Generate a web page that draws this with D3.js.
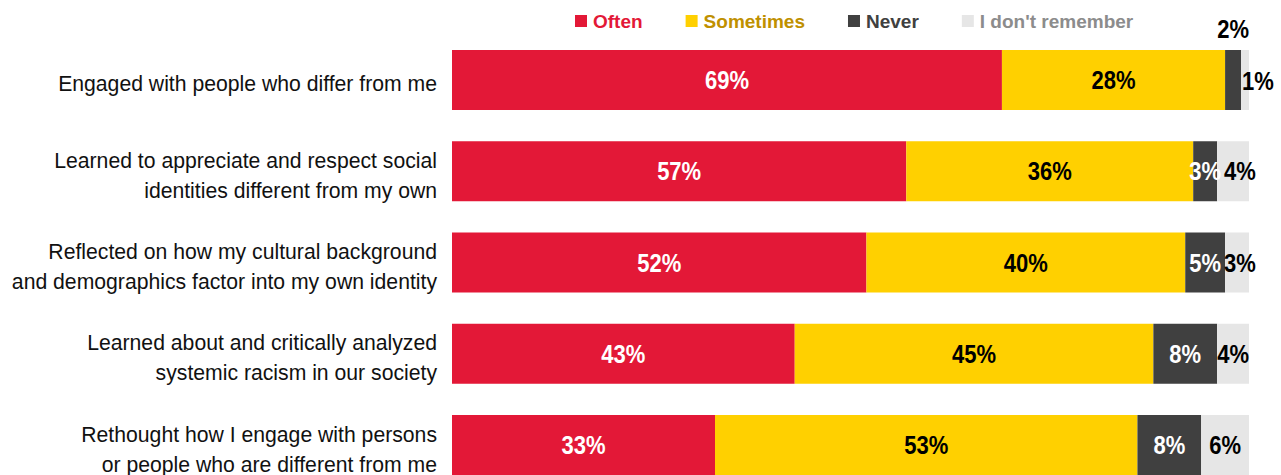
<!DOCTYPE html>
<html>
<head>
<meta charset="utf-8">
<script src="https://cdn.jsdelivr.net/npm/d3@7/dist/d3.min.js"></script>
<style>
  body { margin: 0; background: #fff; }
  svg { display: block; font-family: "Liberation Sans", Arial, sans-serif; }
</style>
</head>
<body>
<svg id="chart" width="1281" height="475"></svg>
<script>
// data
var categories = [
  ["Engaged with people who differ from me"],
  ["Learned to appreciate and respect social", "identities different from my own"],
  ["Reflected on how my cultural background", "and demographics factor into my own identity"],
  ["Learned about and critically analyzed", "systemic racism in our society"],
  ["Rethought how I engage with persons", "or people who are different from me"]
];
var seriesNames = ["Often", "Sometimes", "Never", "I don't remember"];
var often     = [69, 57, 52, 43, 33];
var sometimes = [28, 36, 40, 45, 53];
var never     = [2, 3, 5, 8, 8];
var dontKnow  = [1, 4, 3, 4, 6];

var fills     = ["#e31837", "#ffd000", "#404040", "#e6e6e6"];
var legendInk = ["#e31837", "#bf9000", "#404040", "#8c8c8c"];
var labelInk  = ["#fff", "#000", "#fff", "#000"];

var svg = d3.select("#chart");

// build rows for the stack
var rows = categories.map(function(c, i){
  return {idx: i, "Often": often[i], "Sometimes": sometimes[i],
          "Never": never[i], "I don't remember": dontKnow[i]};
});
var stack = d3.stack().keys(seriesNames)(rows);

var xScale = d3.scaleLinear().domain([0, 100]).range([452, 1249]);
var yScale = d3.scaleBand()
                .domain(d3.range(categories.length))
                .range([50, 475])
                .paddingInner(0.3425);
var bw = yScale.bandwidth();

// bars
var layers = svg.append("g").attr("id", "bars")
                .selectAll("g")
                .data(stack)
                .enter()
                .append("g")
                .attr("fill", function(d, i){ return fills[i]; });

layers.selectAll("rect")
      .data(function(d){ return d; })
      .enter()
      .append("rect")
      .attr("x", function(d){ return xScale(d[0]); })
      .attr("width", function(d){ return xScale(d[1]) - xScale(d[0]); })
      .attr("y", function(d){ return yScale(d.data.idx); })
      .attr("height", bw);

// value labels (condensed bold look)
var sx = 0.88;
var rightEdge = categories.map(function(){ return -Infinity; }); // last in-bar label edge per row
stack.forEach(function(layer, si){
  var last = si == stack.length - 1;
  svg.append("g")
     .selectAll("text")
     .data(layer)
     .enter()
     .append("text")
     .attr("font-size", 25)
     .attr("font-weight", "bold")
     .each(function(d){
        var x0 = xScale(d[0]), x1 = xScale(d[1]);
        var val = d[1] - d[0];
        var row = d.data.idx;
        var yc = yScale(row) + bw / 2;
        var t = d3.select(this).text(val + "%");
        var w = this.getComputedTextLength() * sx;
        var tx, ty;
        if (x1 - x0 < 20) {
          if (last) {
            // too thin, put it to the right of the bar
            tx = x1 - 7; ty = yc + 10;
            t.attr("text-anchor", "start").attr("fill", "#000");
          } else {
            // too thin, put it above the bar
            tx = (x0 + x1) / 2; ty = yScale(row) - 12;
            t.attr("text-anchor", "middle").attr("fill", "#000");
          }
        } else {
          tx = (x0 + x1) / 2; ty = yc + 9;
          // nudge right if it would run into the previous label
          if (tx - w / 2 < rightEdge[row] + 3) tx = rightEdge[row] + 3 + w / 2;
          rightEdge[row] = tx + w / 2;
          t.attr("text-anchor", "middle").attr("fill", labelInk[si]);
        }
        t.attr("transform", "translate(" + tx + "," + ty + ") scale(" + sx + ",1)");
     });
});

// category labels
var cats = svg.append("g").attr("id", "cats")
              .selectAll("text")
              .data(categories)
              .enter()
              .append("text")
              .attr("text-anchor", "end")
              .attr("font-size", 21.2)
              .attr("fill", "#111");
cats.each(function(lines, i){
  var yc = yScale(i) + bw / 2;
  var y0 = yc + 11.5 - (lines.length - 1) * 30 / 2;
  d3.select(this).selectAll("tspan")
    .data(lines)
    .enter()
    .append("tspan")
    .attr("x", 437)
    .attr("y", function(l, j){ return y0 + j * 30; })
    .text(function(l){ return l; });
});

// legend
var legend = svg.append("g").attr("id", "legend");
var lx = 575;
seriesNames.forEach(function(name, i){
  legend.append("rect")
        .attr("x", lx).attr("y", 15)
        .attr("width", 12).attr("height", 12)
        .attr("fill", fills[i]);
  var t = legend.append("text")
        .attr("x", lx + 18).attr("y", 28)
        .attr("font-size", 19)
        .attr("font-weight", "bold")
        .attr("fill", legendInk[i])
        .text(name);
  lx += 18 + t.node().getComputedTextLength() + 43;
});
</script>
</body>
</html>
